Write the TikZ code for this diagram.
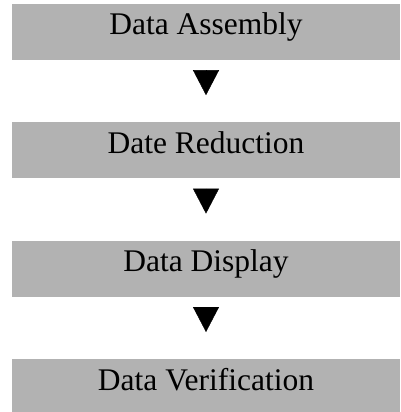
\documentclass[tikz,border=0pt]{standalone}
\usepackage{fontspec}
\setmainfont{Liberation Serif}
\usetikzlibrary{arrows.meta, positioning}

\begin{document}
\begin{tikzpicture}[
    node distance=62pt,
    stage/.style={fill=black!30, minimum width=388pt, minimum height=56pt, inner sep=0pt,
        text height=20pt, text depth=14pt, font=\fontsize{31.5}{36}\selectfont},
    flow/.style={-{Triangle[width=26pt,length=25pt]}, line width=0.4pt, shorten <=10pt, shorten >=27pt}
]
    \useasboundingbox (0,0) rectangle (400pt,-412pt);

    % Processing stages
    \node[stage] (assembly) at (206pt,-32pt) {Data Assembly};
    \node[stage, below=of assembly] (reduction) {Date Reduction};
    \node[stage, below=of reduction] (display) {Data Display};
    \node[stage, below=of display] (verification) {Data Verification};

    % Flow between stages
    \draw[flow] (assembly) -- (reduction);
    \draw[flow] (reduction) -- (display);
    \draw[flow] (display) -- (verification);

\end{tikzpicture}
\end{document}
